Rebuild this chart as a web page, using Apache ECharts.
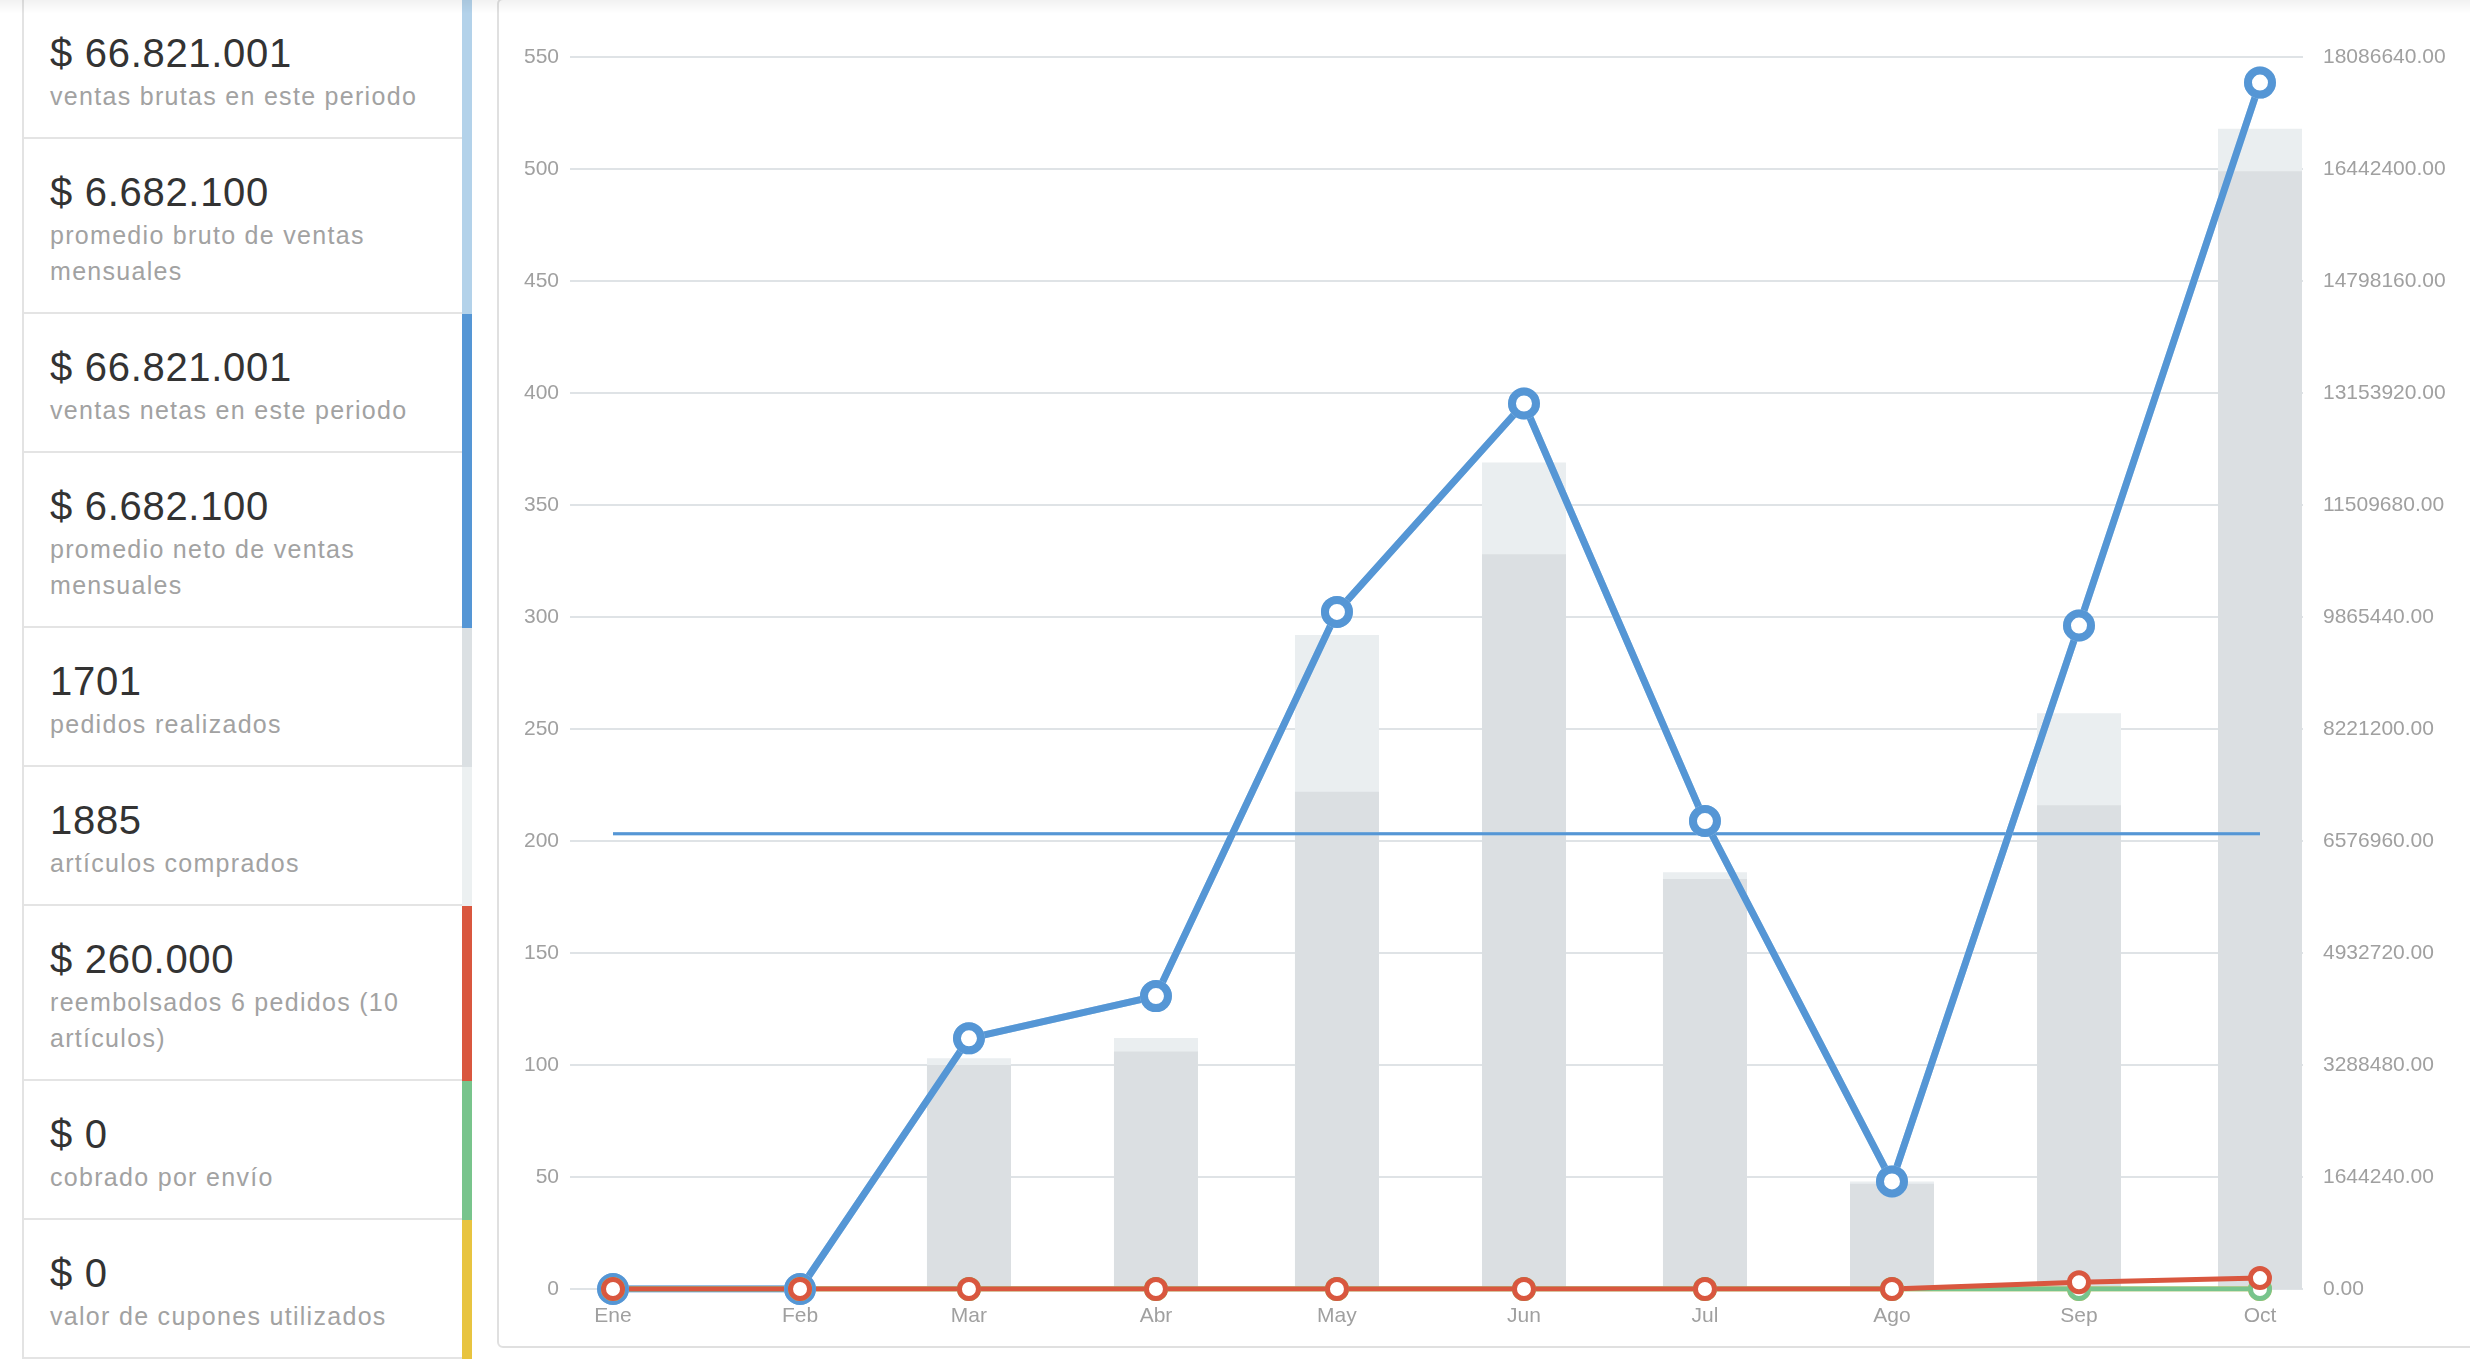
<!DOCTYPE html>
<html>
<head>
<meta charset="utf-8">
<script src="https://cdn.jsdelivr.net/npm/echarts@6/dist/echarts.min.js"></script>
<style>
html,body{margin:0;padding:0;width:2470px;height:1368px;background:#fff;overflow:hidden;font-family:"Liberation Sans",Arial,sans-serif;}
#topshade{position:absolute;left:0;top:0;width:2470px;height:14px;background:linear-gradient(rgba(0,0,0,0.05),rgba(0,0,0,0));z-index:5;pointer-events:none;}
#kpi{position:absolute;left:22px;top:0;width:450px;border-left:2px solid #e3e3e3;}
.row{position:relative;width:448px;box-sizing:border-box;padding:31px 20px 23px 26px;border-bottom:2px solid #e4e4e4;}
.big{font-size:40px;line-height:44px;color:#333333;letter-spacing:0.7px;white-space:nowrap;}
.sub{font-size:25px;line-height:36px;color:#a2a2a2;letter-spacing:1.3px;margin-top:3px;width:400px;}
.strip{position:absolute;right:0;top:0;bottom:-2px;width:10px;}
#panel{position:absolute;left:497px;top:-2px;width:2000px;height:1350px;box-sizing:border-box;border:2px solid #e0e0e0;border-radius:6px;}
#chart{position:absolute;left:0;top:0;width:2470px;height:1368px;}
</style>
</head>
<body>
<div id="kpi"></div>
<div id="panel"></div>
<div id="chart"></div>
<div id="topshade"></div>
<script>
// ---- KPI panel data ----
const kpiValues = ['$ 66.821.001', '$ 6.682.100', '$ 66.821.001', '$ 6.682.100', '1701', '1885', '$ 260.000', '$ 0', '$ 0'];
const kpiLabels = ['ventas brutas en este periodo', 'promedio bruto de ventas mensuales', 'ventas netas en este periodo', 'promedio neto de ventas mensuales', 'pedidos realizados', 'artículos comprados', 'reembolsados 6 pedidos (10 artículos)', 'cobrado por envío', 'valor de cupones utilizados'];
const kpiColors = ['#b3d2ea', '#b3d2ea', '#5596d5', '#5596d5', '#dbe0e3', '#ecf0f1', '#d9573f', '#78c48c', '#e8c440'];

// ---- chart data ----
const months = ['Ene', 'Feb', 'Mar', 'Abr', 'May', 'Jun', 'Jul', 'Ago', 'Sep', 'Oct'];
const monthDates = ['2023-01-01', '2023-02-01', '2023-03-01', '2023-04-01', '2023-05-01', '2023-06-01', '2023-07-01', '2023-08-01', '2023-09-01', '2023-10-01'];
const itemsBought = [0, 0, 103, 112, 292, 369, 186, 48, 257, 518];
const ordersPlaced = [0, 0, 100, 106, 222, 328, 183, 47, 216, 499];
const grossSales = [0, 0, 3680000, 4300000, 9940000, 13000000, 6870000, 1580000, 9740000, 17711001];
const netSales = [0, 0, 3680000, 4300000, 9940000, 13000000, 6870000, 1580000, 9740000, 17711001];
const refunds = [0, 0, 0, 0, 0, 0, 0, 0, 100000, 160000];
const shipping = [0, 0, 0, 0, 0, 0, 0, 0, 0, 0];
const coupons = [0, 0, 0, 0, 0, 0, 0, 0, 0, 0];
const grossAverage = 6682100;
const netAverage = 6682100;
const leftAxisMax = 550, leftAxisStep = 50;
const rightAxisMax = 18086640, rightAxisStep = 1644240;

// build KPI rows
const kpi = document.getElementById('kpi');
kpiValues.forEach((v, i) => {
  const r = document.createElement('div');
  r.className = 'row';
  r.innerHTML = '<div class="big"></div><div class="sub"></div><div class="strip"></div>';
  r.querySelector('.big').textContent = v;
  r.querySelector('.sub').textContent = kpiLabels[i];
  r.querySelector('.strip').style.background = kpiColors[i];
  kpi.appendChild(r);
});

// x positions: days since the first month start (time-proportional spacing)
const DAY = 86400000;
const toDay = s => { const p = s.split('-').map(Number); return Date.UTC(p[0], p[1] - 1, p[2]) / DAY; };
const day0 = toDay(monthDates[0]);
const xs = monthDates.map(s => toDay(s) - day0);
const pairs = arr => xs.map((x, i) => [x, arr[i]]);

const BLUE = '#5596d5', LBLUE = '#b3d2ea', RED = '#d9573f', GREEN = '#78c48c', YELLOW = '#e8c440';
const labelFont = {color: '#a0a0a0', fontSize: 21, fontFamily: 'Liberation Sans'};

function lineSeries(name, data, color, lw, size, bw) {
  return {
    name, type: 'line', yAxisIndex: 1, data: pairs(data),
    symbol: 'circle', symbolSize: size, showSymbol: true, showAllSymbol: true,
    lineStyle: {color, width: lw},
    itemStyle: {color: '#ffffff', borderColor: color, borderWidth: bw},
    z: 3
  };
}

const chart = echarts.init(document.getElementById('chart'), null, {renderer: 'canvas'});
chart.setOption({
  animation: false,
  backgroundColor: 'transparent',
  grid: {left: 570, right: 167, top: 57, bottom: 79, containLabel: false},
  xAxis: {
    type: 'value',
    min: xs[0] - 7.13,
    max: xs[xs.length - 1] + 7.13,
    axisLine: {show: false},
    axisTick: {show: false},
    splitLine: {show: false},
    axisLabel: Object.assign({
      customValues: xs,
      hideOverlap: false,
      margin: 17,
      formatter: v => { const i = xs.indexOf(v); return i >= 0 ? months[i] : ''; }
    }, labelFont)
  },
  yAxis: [
    {
      type: 'value', position: 'left', min: 0, max: leftAxisMax, interval: leftAxisStep,
      axisLine: {show: false}, axisTick: {show: false},
      splitLine: {show: true, lineStyle: {color: '#dfe3e6', width: 2}},
      axisLabel: Object.assign({margin: 11}, labelFont)
    },
    {
      type: 'value', position: 'right', min: 0, max: rightAxisMax, interval: rightAxisStep,
      axisLine: {show: false}, axisTick: {show: false}, splitLine: {show: false},
      axisLabel: Object.assign({margin: 20, formatter: v => v.toFixed(2)}, labelFont)
    }
  ],
  series: [
    {name: 'artículos comprados', type: 'bar', yAxisIndex: 0, data: pairs(itemsBought), barWidth: 84, barGap: '-100%', itemStyle: {color: '#eaeef0'}, z: 1},
    {name: 'pedidos realizados', type: 'bar', yAxisIndex: 0, data: pairs(ordersPlaced), barWidth: 84, barGap: '-100%', itemStyle: {color: '#dbdfe2'}, z: 1},
    {name: 'promedio bruto', type: 'line', yAxisIndex: 1, data: [[xs[0], grossAverage], [xs[xs.length - 1], grossAverage]], symbol: 'none', lineStyle: {color: LBLUE, width: 3}, z: 2},
    {name: 'promedio neto', type: 'line', yAxisIndex: 1, data: [[xs[0], netAverage], [xs[xs.length - 1], netAverage]], symbol: 'none', lineStyle: {color: BLUE, width: 3}, z: 2},
    lineSeries('ventas brutas', grossSales, LBLUE, 7, 24, 8),
    lineSeries('ventas netas', netSales, BLUE, 7, 24, 8),
    lineSeries('cupones', coupons, YELLOW, 5, 19, 5),
    lineSeries('envío', shipping, GREEN, 5, 19, 5),
    lineSeries('reembolsos', refunds, RED, 5, 19, 5)
  ]
});
</script>
</body>
</html>
